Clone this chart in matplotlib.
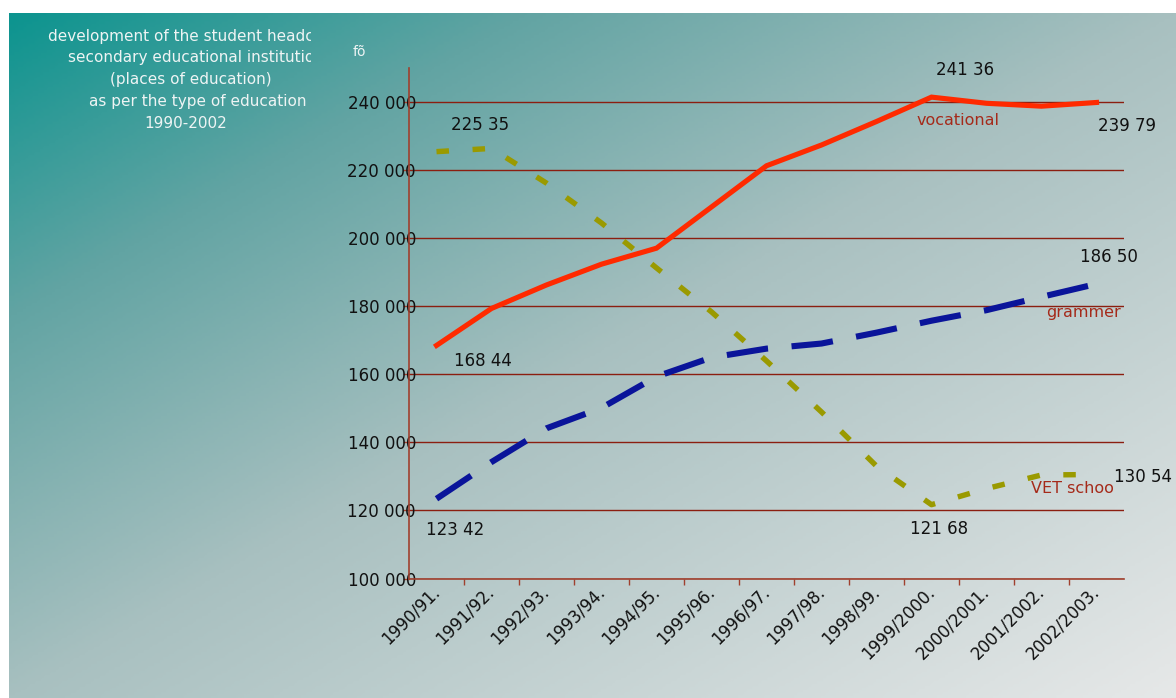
import matplotlib
matplotlib.use('Agg')
import matplotlib.pyplot as plt
from matplotlib.colors import LinearSegmentedColormap
from matplotlib.ticker import FuncFormatter, FixedLocator
from matplotlib.transforms import Bbox, TransformedBbox
import numpy as np

years = ['1990/91.', '1991/92.', '1992/93.', '1993/94.', '1994/95.', '1995/96.', '1996/97.',
         '1997/98.', '1998/99.', '1999/2000.', '2000/2001.', '2001/2002.', '2002/2003.']
vocational = [168440, 179300, 186200, 192300, 197000, 209100, 221200, 227300, 234200, 241360, 239550, 238700, 239790]
grammar = [123420, 134200, 144100, 150100, 159300, 164900, 167500, 169000, 172200, 175700, 178800, 182700, 186500]
vet_school = [225350, 226300, 216100, 204400, 191200, 178300, 163900, 148900, 133000, 121680, 126400, 130400, 130540]

title_lines = ['development of the student headcount in', 'secondary educational institutions',
               '(places of education)', 'as per the type of education', '1990-2002']

plt.rcParams['font.family'] = 'DejaVu Sans'
plt.rcParams['lines.scale_dashes'] = False

W, H = 1176, 698
fig = plt.figure(figsize=(W / 100, H / 100), dpi=100)
fig.patch.set_facecolor('white')

# background gradient panel (white strip top and left)
bg = fig.add_axes([9 / W, 0, 1 - 9 / W, 1 - 13 / H])
bg.set_axis_off()
gx, gy = np.meshgrid(np.linspace(0, 1, 400), np.linspace(0, 1, 240))
grad = (gx + gy) / 2
cmap = LinearSegmentedColormap.from_list('bg', [(0, '#0c948f'), (0.22, '#62a4a3'),
                                               (0.5, '#a8c0c0'), (1, '#e6e8e8')])
bg.imshow(grad, cmap=cmap, aspect='auto', extent=[0, 1, 0, 1], origin='upper')
bg.set_xlim(0, 1)
bg.set_ylim(0, 1)

red_dark = '#8b1e10'
axis_red = '#a0402e'
ax = fig.add_axes([409 / W, 1 - 578.5 / H, 715 / W, (578.5 - 67.7) / H])
ax.patch.set_alpha(0)
x = np.arange(len(years))

ax.plot(x, vocational, color='#ff2a00', lw=3.7, solid_joinstyle='miter', zorder=3)
ax.plot(x, grammar, color='#0a149a', lw=4.4, dashes=(30, 17), zorder=3)
ax.plot(x, vet_school, color='#9a9a00', lw=3.9, dashes=(9, 17), zorder=3)

ax.set_xlim(-0.5, len(years) - 0.5)
ax.set_ylim(100000, 250000)
ax.set_yticks(range(100000, 250000, 20000))
ax.yaxis.set_major_formatter(FuncFormatter(lambda v, p: f'{int(v):,}'.replace(',', ' ')))
ax.grid(axis='y', color=red_dark, lw=1)
ax.set_axisbelow(True)
for s in ['top', 'right']:
    ax.spines[s].set_visible(False)
for s in ['left', 'bottom']:
    ax.spines[s].set_color(axis_red)
    ax.spines[s].set_linewidth(1.2)
ax.tick_params(axis='y', colors=axis_red, length=4, width=1, pad=-9, labelsize=12, labelcolor='#111111')
ax.set_xticks(x)
ax.set_xticklabels(years, rotation=45, ha='right', va='center', rotation_mode='anchor')
ax.tick_params(axis='x', length=0, pad=7.5, labelsize=12, labelcolor='#111111')
ax.xaxis.set_minor_locator(FixedLocator(np.arange(0.5, len(years) - 0.5, 1)))
ax.tick_params(axis='x', which='minor', length=4, width=1, color=axis_red)


def val(txt, i, series, dx, dy):
    # value label, offset from the data point in pixels
    ax.annotate(txt, xy=(i, series[i]), xytext=(dx * 0.72, -dy * 0.72), textcoords='offset points',
                ha='left', va='center', fontsize=12, color='#111111')


val('225 35', 0, vet_school, 14, -27)
val('168 44', 0, vocational, 17, 16)
val('123 42', 0, grammar, -11, 31)
val('241 36', 9, vocational, 4.5, -27)
val('121 68', 9, vet_school, -21.5, 24)
val('239 79', 12, vocational, 1, 24)
val('186 50', 12, grammar, -16.5, -27)
val('130 54', 12, vet_school, 17.5, 2)

name_color = '#a52a1a'
ax.text(8.73, 234450, 'vocational', color=name_color, fontsize=11.5, va='center', ha='left')
ax.text(11.09, 178060, 'grammer', color=name_color, fontsize=11.5, va='center', ha='left')
ax.text(10.81, 126490, 'VET schoo', color=name_color, fontsize=11.5, va='center', ha='left')

fig.text(352.7 / W, 1 - 51.7 / H, 'fõ', color='#eef4f4', fontsize=10, ha='left', va='center')

# title block, clipped at the right like the original text box
clip = TransformedBbox(Bbox([[0, 0], [311 / W, 1]]), fig.transFigure)
starts = [48.3, 67.7, 110, 89.3, 144]
for k, (line, x0) in enumerate(zip(title_lines, starts)):
    t = fig.text(x0 / W, 1 - (36 + 21.8 * k) / H, line, color='#eef4f4', fontsize=11,
                 ha='left', va='center')
    t.set_clip_box(clip)
    t.set_clip_on(True)

fig.savefig('out.png', dpi=100)
